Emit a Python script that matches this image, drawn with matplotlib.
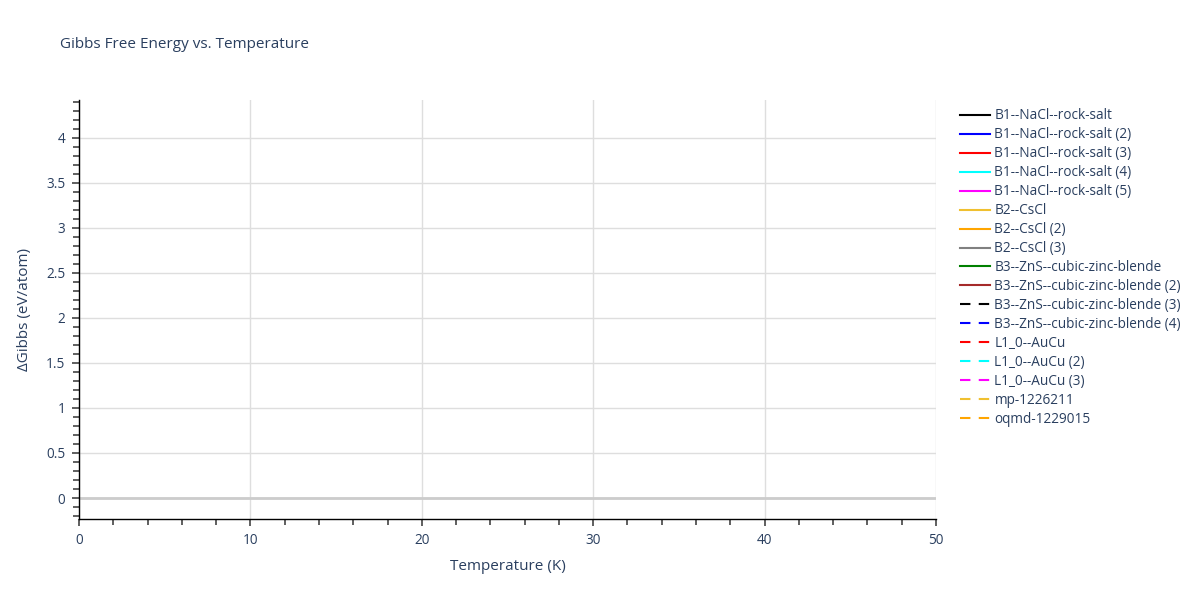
"""Gibbs free energy vs. temperature for the candidate structures (empty in 0-50 K)."""

import matplotlib

matplotlib.use("Agg")

import matplotlib.pyplot as plt
from matplotlib.ticker import MultipleLocator


TITLE = "Gibbs Free Energy vs. Temperature"
X_LABEL = "Temperature (K)"
Y_LABEL = "ΔGibbs (eV/atom)"

STRUCTURES = [
    "B1--NaCl--rock-salt",
    "B1--NaCl--rock-salt (2)",
    "B1--NaCl--rock-salt (3)",
    "B1--NaCl--rock-salt (4)",
    "B1--NaCl--rock-salt (5)",
    "B2--CsCl",
    "B2--CsCl (2)",
    "B2--CsCl (3)",
    "B3--ZnS--cubic-zinc-blende",
    "B3--ZnS--cubic-zinc-blende (2)",
    "B3--ZnS--cubic-zinc-blende (3)",
    "B3--ZnS--cubic-zinc-blende (4)",
    "L1_0--AuCu",
    "L1_0--AuCu (2)",
    "L1_0--AuCu (3)",
    "mp-1226211",
    "oqmd-1229015",
]

# no points of any trace fall in the shown temperature window
TEMPERATURES = {name: [] for name in STRUCTURES}
DELTA_GIBBS = {name: [] for name in STRUCTURES}

X_RANGE = (0, 50)
Y_RANGE = (-0.233, 4.42)

COLORS = [
    "black", "blue", "red", "cyan", "magenta", "#f0c030", "orange", "gray",
    "green", "#a52a2a", "black", "blue", "red", "cyan", "magenta", "#f0c030", "orange",
]
DASHED_FROM = 10

TEXT_COLOR = "#2a3f5f"


def main() -> None:
    plt.rcParams["font.family"] = ["Open Sans", "DejaVu Sans"]
    fig = plt.figure(figsize=(12, 6), dpi=100)
    ax = fig.add_axes([79 / 1200, 81 / 600, (936 - 79) / 1200, (519 - 100) / 600])

    for index, name in enumerate(STRUCTURES):
        style = (0, (5, 4)) if index >= DASHED_FROM else "-"
        ax.plot(
            TEMPERATURES[name],
            DELTA_GIBBS[name],
            color=COLORS[index],
            linestyle=style,
            linewidth=1.5,
            label=name,
        )

    ax.set_xlim(*X_RANGE)
    ax.set_ylim(*Y_RANGE)
    ax.xaxis.set_major_locator(MultipleLocator(10))
    ax.xaxis.set_minor_locator(MultipleLocator(2))
    ax.yaxis.set_major_locator(MultipleLocator(0.5))
    ax.yaxis.set_minor_locator(MultipleLocator(0.1))
    ax.yaxis.set_major_formatter(lambda v, _: f"{v:g}")

    ax.grid(True, which="major", color="#dedede", linewidth=1.0)
    ax.axhline(0, color="#cccccc", linewidth=2.0, zorder=1)
    ax.set_axisbelow(True)

    for side in ("top", "right"):
        ax.spines[side].set_visible(False)
    for side in ("left", "bottom"):
        ax.spines[side].set_color("black")
        ax.spines[side].set_linewidth(1.0)

    ax.tick_params(which="both", direction="out", color="#444444", labelcolor=TEXT_COLOR,
                   labelsize=9.8, width=1.2)
    ax.tick_params(which="major", length=5, pad=5)
    ax.tick_params(which="minor", length=4)

    ax.set_xlabel(X_LABEL, fontsize=11, color=TEXT_COLOR, labelpad=8)
    ax.set_ylabel(Y_LABEL, fontsize=11, color=TEXT_COLOR, labelpad=10)
    fig.text(60 / 1200, 1 - 45 / 600, TITLE, fontsize=11, color=TEXT_COLOR, va="center")

    legend = fig.legend(
        loc="upper left",
        bbox_to_anchor=(955 / 1200, 1 - 103 / 600),
        frameon=False,
        fontsize=9.8,
        handlelength=2.2,
        handletextpad=0.3,
        labelspacing=0.292,
        borderaxespad=0,
    )
    for text in legend.get_texts():
        text.set_color(TEXT_COLOR)

    fig.savefig("out.png", dpi=100)
    plt.close(fig)


if __name__ == "__main__":
    main()
